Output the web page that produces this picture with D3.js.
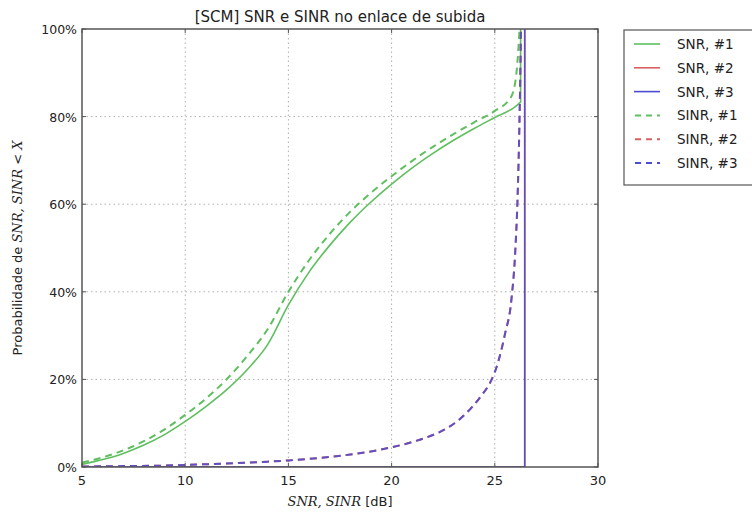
<!DOCTYPE html>
<html><head><meta charset="utf-8">
<script src="https://cdn.jsdelivr.net/npm/d3@7"></script>
<style>body{margin:0;background:#fff}svg{display:block}</style>
</head><body>
<script>
// ---- data ----
const xTicks = [5, 10, 15, 20, 25, 30];
const yTicks = [0, 20, 40, 60, 80, 100];
const snr1 = [[5,0.6],[6,1.7],[7,3.1],[8,5.0],[9,7.4],[10,10.4],[11,13.8],[12,17.6],[13,22.2],[14,28.0],[15,37.0],[16,44.5],[17,50.6],[18,55.9],[19,60.5],[20,64.6],[21,68.3],[22,71.6],[23,74.6],[24,77.3],[25,79.8],[26,82.3],[26.25,83.3],[26.25,100]];
const sinr1 = [[5,1.0],[6,2.2],[7,3.8],[8,5.9],[9,8.6],[10,11.9],[11,15.6],[12,20.0],[13,25.3],[14,31.5],[15,40.0],[16,47.2],[17,53.2],[18,58.3],[19,62.6],[20,66.4],[21,69.9],[22,73.1],[23,76.0],[24,78.7],[25,81.3],[25.8,84.6],[26.05,90],[26.15,96],[26.2,100]];
const snr2 = [[5,0],[26.45,0],[26.45,100]];
const snr3 = [[5,0],[26.45,0],[26.45,100]];
const sinr2 = [[5,0.1],[7,0.2],[9,0.33],[10,0.48],[11,0.63],[12,0.8],[13,1.0],[14,1.22],[15,1.5],[16,1.85],[17,2.3],[18,2.85],[19,3.55],[20,4.5],[21,5.7],[22,7.3],[22.7,8.9],[23.6,12.2],[24.3,16.0],[24.85,20.0],[25.1,23.0],[25.5,30.5],[25.8,38],[26.0,50],[26.1,61],[26.2,80],[26.27,100]];
const sinr3 = sinr2.map(d => d.slice());
const seriesNames = ["SNR, #1","SNR, #2","SNR, #3","SINR, #1","SINR, #2","SINR, #3"];

// ---- layout ----
const W = 752, H = 513;
const L = 82, R = 598, T = 29, B = 467;
const svg = d3.select("body").append("svg").attr("width", W).attr("height", H)
  .style("font-family", "'DejaVu Sans', sans-serif");

const x = d3.scaleLinear().domain([5, 30]).range([L, R]);
const y = d3.scaleLinear().domain([0, 100]).range([B, T]);

// grid
const grid = svg.append("g").attr("stroke", "#b0b0b0").attr("stroke-width", 1).attr("stroke-dasharray", "1.5,3");
xTicks.slice(1, -1).forEach(t => grid.append("line").attr("x1", x(t)).attr("x2", x(t)).attr("y1", T).attr("y2", B));
yTicks.slice(1, -1).forEach(t => grid.append("line").attr("x1", L).attr("x2", R).attr("y1", y(t)).attr("y2", y(t)));

// line generators: smooth monotone curve, with a straight final step where x repeats
const smooth = d3.line().x(d => x(d[0])).y(d => y(d[1])).curve(d3.curveMonotoneX);
const lineLin = d3.line().x(d => x(d[0])).y(d => y(d[1]));
function gen(data) {
  const n = data.length;
  if (n > 2 && data[n - 1][0] === data[n - 2][0]) {
    return smooth(data.slice(0, -1)) + lineLin([data[n - 2], data[n - 1]]).replace(/^M/, "L");
  }
  return smooth(data);
}
const green = "#5fbf5f", red = "#d65f5f", blue = "#4c4cd2";
const plot = svg.append("g");
svg.append("clipPath").attr("id", "clp").append("rect").attr("x", L).attr("y", T - 1).attr("width", R - L).attr("height", B - T + 1);
plot.attr("clip-path", "url(#clp)");
function draw(data, color, dashed, g, op) {
  plot.append("path").attr("d", g(data)).attr("fill", "none").attr("stroke", color)
    .attr("stroke-width", dashed ? 2 : 1.6).attr("stroke-opacity", op || 1)
    .attr("stroke-dasharray", dashed ? "7,5" : null).attr("stroke-linejoin", "round");
}
draw(snr1, green, false, gen);
draw(snr2, red, false, lineLin);
draw(snr3, blue, false, lineLin, 0.9);
draw(sinr1, green, true, gen);
draw(sinr2, red, true, gen);
draw(sinr3, blue, true, gen, 0.85);

// frame
svg.append("rect").attr("x", L).attr("y", T).attr("width", R - L).attr("height", B - T)
  .attr("fill", "none").attr("stroke", "#555").attr("stroke-width", 1.5);

// ticks (inward)
const tk = svg.append("g").attr("stroke", "#555").attr("stroke-width", 1);
xTicks.forEach(t => {
  tk.append("line").attr("x1", x(t)).attr("x2", x(t)).attr("y1", B).attr("y2", B - 4);
  tk.append("line").attr("x1", x(t)).attr("x2", x(t)).attr("y1", T).attr("y2", T + 4);
});
yTicks.forEach(t => {
  tk.append("line").attr("x1", L).attr("x2", L + 4).attr("y1", y(t)).attr("y2", y(t));
  tk.append("line").attr("x1", R).attr("x2", R - 4).attr("y1", y(t)).attr("y2", y(t));
});

// tick labels
svg.append("g").selectAll("text").data(xTicks).join("text")
  .attr("x", d => x(d)).attr("y", B + 18).attr("text-anchor", "middle")
  .attr("font-size", 13).attr("fill", "#222").text(d => d);
svg.append("g").selectAll("text").data(yTicks).join("text")
  .attr("x", L - 5).attr("y", d => y(d) + 5).attr("text-anchor", "end")
  .attr("font-size", 12.5).attr("fill", "#222").text(d => d + "%");

// title
svg.append("text").attr("x", (L + R) / 2).attr("y", 22).attr("text-anchor", "middle")
  .attr("font-size", 15).attr("fill", "#222").text("[SCM] SNR e SINR no enlace de subida");

// x label
const xl = svg.append("text").attr("x", (L + R) / 2).attr("y", 506).attr("text-anchor", "middle")
  .attr("font-size", 13).attr("fill", "#222");
xl.append("tspan").attr("font-family", "'DejaVu Serif', serif").attr("font-style", "italic").text("SNR, SINR");
xl.append("tspan").text(" [dB]");

// y label
const yl = svg.append("text").attr("transform", `translate(22,${(T + B) / 2}) rotate(-90)`)
  .attr("text-anchor", "middle").attr("font-size", 13).attr("fill", "#222");
yl.append("tspan").text("Probabilidade de ");
yl.append("tspan").attr("font-family", "'DejaVu Serif', serif").attr("font-style", "italic").text("SNR, SINR");
yl.append("tspan").text(" < ");
yl.append("tspan").attr("font-family", "'DejaVu Serif', serif").attr("font-style", "italic").text("X");

// legend
const leg = svg.append("g");
leg.append("rect").attr("x", 624).attr("y", 30).attr("width", 140).attr("height", 155)
  .attr("fill", "#fff").attr("stroke", "#555").attr("stroke-width", 1.2);
const legColors = [green, red, blue, green, red, blue];
seriesNames.forEach((n, i) => {
  const yy = 44 + i * 23.8;
  leg.append("line").attr("x1", 634).attr("x2", 660).attr("y1", yy).attr("y2", yy)
    .attr("stroke", legColors[i]).attr("stroke-width", i < 3 ? 1.6 : 2)
    .attr("stroke-dasharray", i < 3 ? null : "6,5").attr("stroke-dashoffset", i < 3 ? 0 : -1);
  leg.append("text").attr("x", 677).attr("y", yy + 5).attr("font-size", 13.5).attr("fill", "#222").text(n);
});
</script>
</body></html>
